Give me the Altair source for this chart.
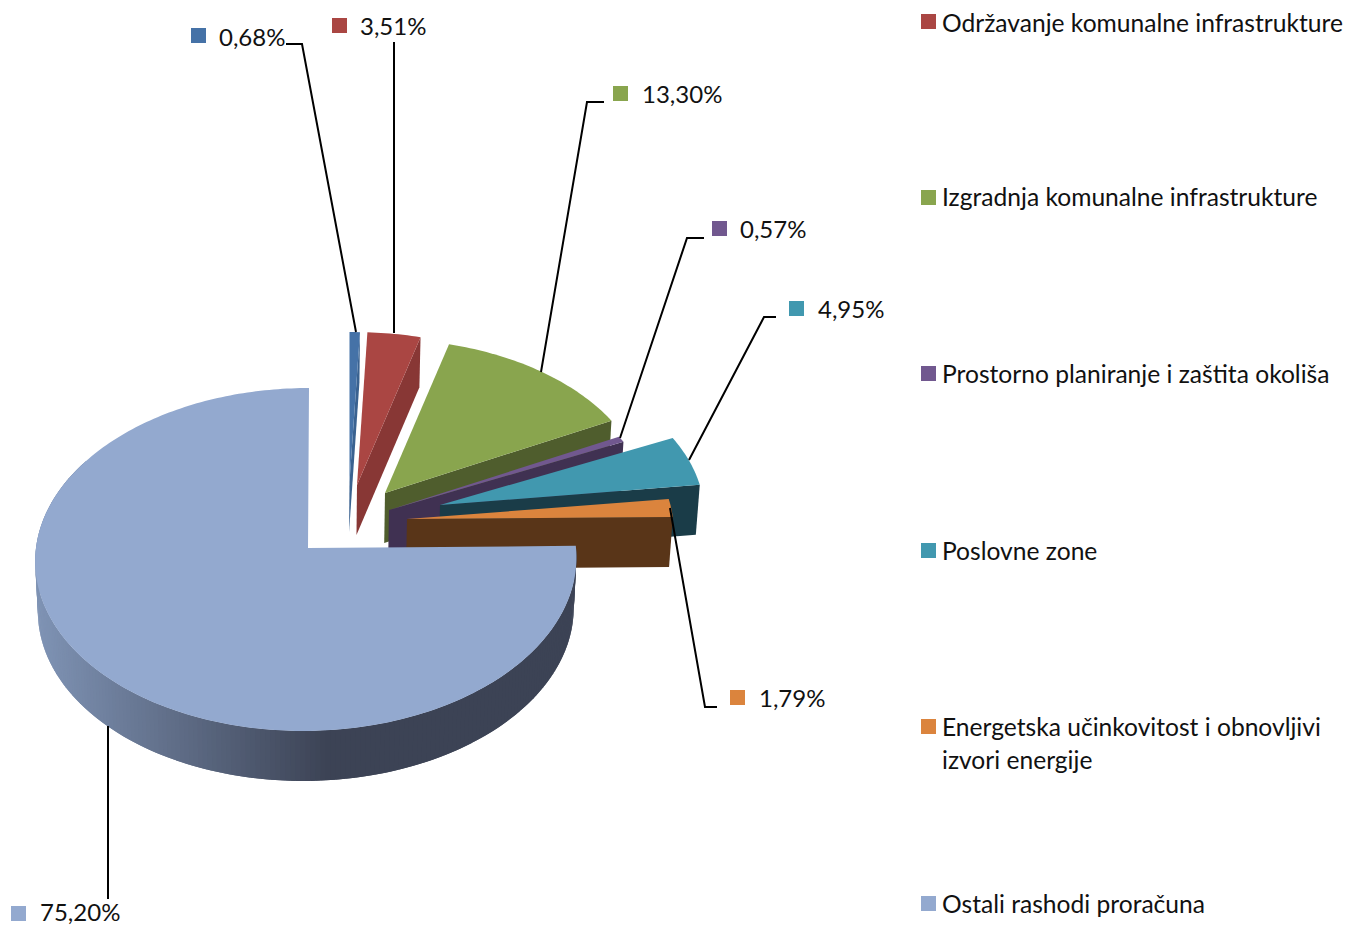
import math
import altair as alt
import pandas as pd

# ---- values ----
shares = [0.68, 3.51, 13.30, 0.57, 4.95, 1.79, 75.20]
share_labels = ["0,68%", "3,51%", "13,30%", "0,57%", "4,95%", "1,79%", "75,20%"]
top_colors = ["#4572A7", "#AA4643", "#89A54E", "#71588F", "#4198AF", "#DB843D", "#93A9CF"]
wall_colors = ["#3A6290", "#883735", "#4F5D2D", "#403152", "#1A3C48", "#593518", "#3C4355"]

# ---- drawing geometry: slice apex x, apex y, x radius, y radius, rim shift, rim skew ----
apexes = [(349.5, 482, 262, 160, 0, 0), (357, 485, 260, 163, 0, 0), (385, 493, 262, 164, 0, 0),
          (389, 510, 266, 166, 0, 0), (440, 505, 264, 163, 0, 0), (407, 519, 266, 161, 0, 0),
          (308, 548, 270, 170.7, -2, 3)]
PERSP = 0.067
DEPTH = 50
CX = 306

# ---- layout ----
label_pos = [(219, 38.5), (360, 28), (642, 96), (740, 231), (818, 311), (759, 700), (40, 914)]
label_box = [(198.5, 35.5), (339.5, 25.5), (620.5, 93.5), (719.5, 228.5), (796.5, 308.5),
             (737.5, 697.5), (18.5, 913.5)]
leaders = [[(286, 44), (302, 44), (356, 332)],
           [(394, 42), (394, 333)],
           [(604, 102), (587, 102), (541, 372)],
           [(704, 238), (687, 238), (620, 438)],
           [(776, 317), (764, 317), (689, 460)],
           [(717, 707), (705, 707), (670, 508)],
           [(108, 726), (108, 899)]]
legend_rows = [("Održavanje komunalne infrastrukture", 25), ("Izgradnja komunalne infrastrukture", 199),
               ("Prostorno planiranje i zaštita okoliša", 376), ("Poslovne zone", 553),
               ("Energetska učinkovitost i obnovljivi", 729), ("izvori energije", 762),
               ("Ostali rashodi proračuna", 906)]
legend_boxes = [(928.5, 21.5, 1), (928.5, 197.5, 2), (928.5, 373.5, 3), (928.5, 550.5, 4),
                (928.5, 726.5, 5), (928.5, 903.5, 6)]


def rim(i, deg):
    ax, ay, r, a, dx, sk = apexes[i]
    u, v = math.sin(math.radians(deg)), math.cos(math.radians(deg))
    w = 1 + PERSP * v
    return (ax + dx + sk * v + r * u / w, ay - a * v / w)


def down(p):
    return (CX + (p[0] - CX) * 0.99, p[1] + DEPTH)


def poly(points, color):
    ring = [list(p) for p in points] + [list(points[0])]
    return {"type": "Feature", "geometry": {"type": "Polygon", "coordinates": [ring]},
            "properties": {"c": color}}


def mix(t):
    t = max(0.0, min(1.0, t))
    a, b = (126, 146, 179), (60, 67, 85)
    return "#%02x%02x%02x" % tuple(round(a[j] + (b[j] - a[j]) * t) for j in range(3))


features = []
start = 0.0
for i, share in enumerate(shares):
    end = start + share * 3.6
    apex = apexes[i][:2]
    n = max(2, int(end - start))
    angles = [start + (end - start) * k / n for k in range(n + 1)]
    if i == 6:
        for a0, a1 in zip(angles, angles[1:]):
            if a0 < 300:
                p0, p1 = rim(i, a0), rim(i, a1 + 1.0)
                features.append(poly([p0, p1, down(p1), down(p0)],
                                     mix((40 - (p0[0] + p1[0]) / 2) / (40 - 325))))
    else:
        corner = rim(i, end)
        features.append(poly([apex, corner, down(corner), down(apex)], wall_colors[i]))
    features.append(poly([apex] + [rim(i, a) for a in angles], top_colors[i]))
    start = end

lines = [{"type": "Feature", "geometry": {"type": "LineString", "coordinates": [list(p) for p in l]},
          "properties": {"c": "black"}} for l in leaders]

proj = alt.Projection(type="identity", scale=1, translate=[-8, -8]).to_dict()

pie = alt.Chart(alt.Data(values=features)).mark_geoshape(strokeWidth=0).encode(
    color=alt.Color("properties.c:N", scale=None),
).project(**proj)

leader_layer = alt.Chart(alt.Data(values=lines)).mark_geoshape(
    filled=False, stroke="black", strokeWidth=2
).project(**proj)

labels_df = pd.DataFrame({"t": share_labels, "x": [p[0] for p in label_pos], "y": [p[1] for p in label_pos]})
legend_df = pd.DataFrame({"t": [r[0] for r in legend_rows], "x": 942, "y": [r[1] for r in legend_rows]})
label_text = alt.Chart(labels_df).mark_text(
    align="left", baseline="middle", font="Lato", fontSize=24, color="#111111"
).encode(longitude="x:Q", latitude="y:Q", text="t:N").project(**proj)
legend_text = alt.Chart(legend_df).mark_text(
    align="left", baseline="middle", font="Lato", fontSize=24.6, color="#111111"
).encode(longitude="x:Q", latitude="y:Q", text="t:N").project(**proj)

box_df = pd.DataFrame(
    [{"x": p[0], "y": p[1], "c": top_colors[i]} for i, p in enumerate(label_box)]
    + [{"x": b[0], "y": b[1], "c": top_colors[b[2]]} for b in legend_boxes]
)
boxes = alt.Chart(box_df).mark_point(shape="square", filled=True, size=225, opacity=1).encode(
    longitude="x:Q", latitude="y:Q", color=alt.Color("c:N", scale=None)
).project(**proj)

chart = alt.layer(pie, leader_layer, boxes, label_text, legend_text).properties(
    width=1337, height=918, padding=0, autosize="none"
).configure_view(stroke=None)

chart.save("out.html", embed_options={"renderer": "svg", "actions": False})
